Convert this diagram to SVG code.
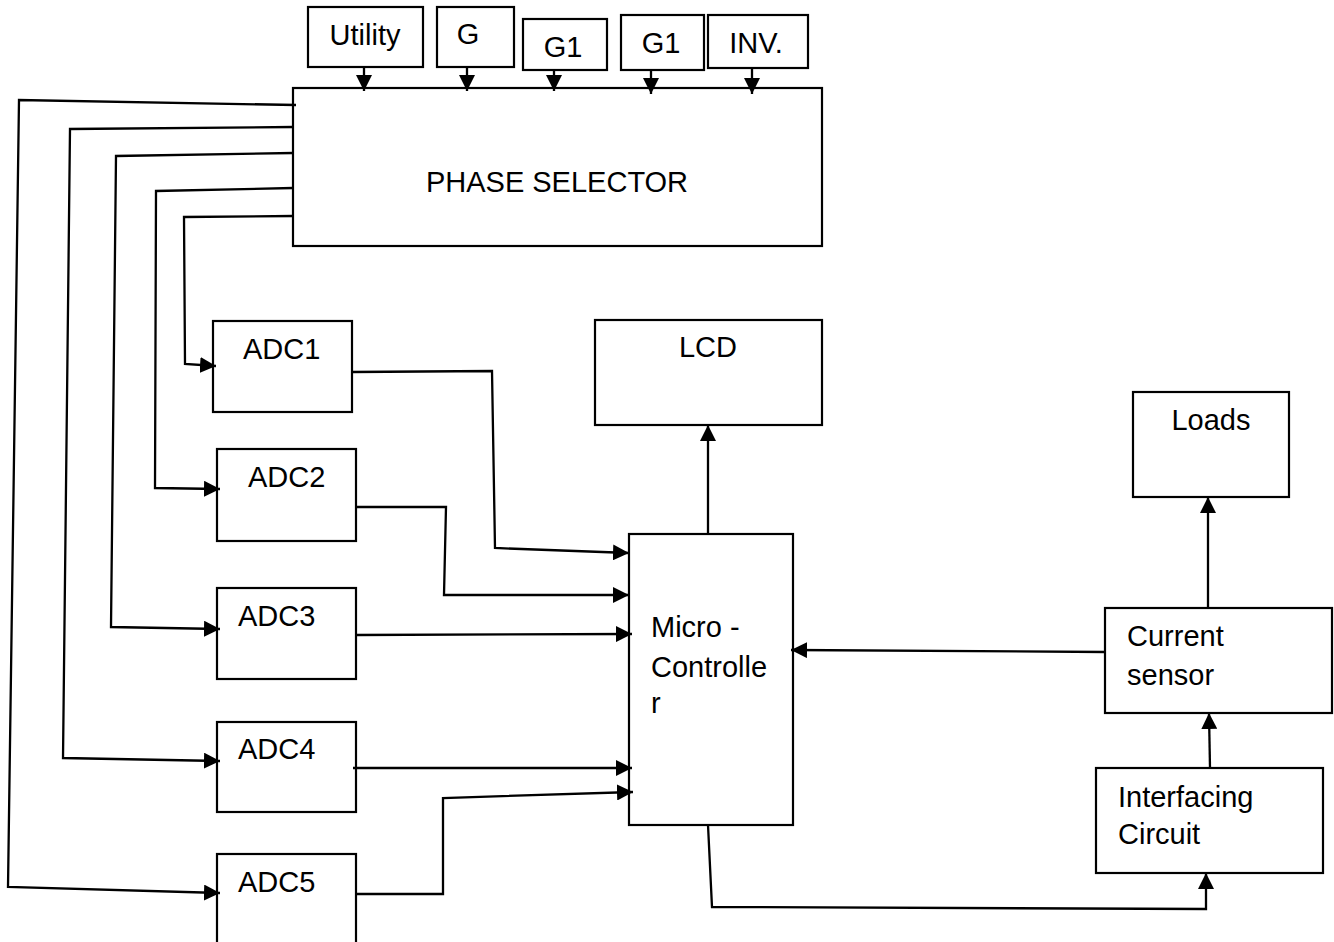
<svg xmlns="http://www.w3.org/2000/svg" width="1334" height="942" viewBox="0 0 1334 942">
<style>
.box{fill:#fff;stroke:#000;stroke-width:2.2}
.t{font-family:"Liberation Sans",Arial,sans-serif;font-size:29px;fill:#000}
.c{fill:none;stroke:#000;stroke-width:2.3}
.a{marker-end:url(#ah)}
</style>
<defs>
<marker id="ah" markerUnits="userSpaceOnUse" markerWidth="17" markerHeight="16" refX="16" refY="8" orient="auto">
<path d="M0,0 L16,8 L0,16 z" fill="#000"/>
</marker>
</defs>
<rect width="1334" height="942" fill="#fff"/>
<g id="utility"><rect class="box" x="308" y="7" width="115" height="60"/><text class="t" x="365" y="45" text-anchor="middle">Utility</text></g>
<g id="g"><rect class="box" x="437" y="7" width="77" height="60"/><text class="t" x="468" y="44" text-anchor="middle">G</text></g>
<g id="g1a"><rect class="box" x="523" y="19" width="84" height="51"/><text class="t" x="563" y="57" text-anchor="middle">G1</text></g>
<g id="g1b"><rect class="box" x="621" y="15" width="83" height="55"/><text class="t" x="661" y="53" text-anchor="middle">G1</text></g>
<g id="inv"><rect class="box" x="708" y="15" width="100" height="53"/><text class="t" x="756" y="53" text-anchor="middle">INV.</text></g>
<g id="phase"><rect class="box" x="293" y="88" width="529" height="158"/><text class="t" x="557" y="192" text-anchor="middle">PHASE SELECTOR</text></g>
<g id="adc1"><rect class="box" x="213" y="321" width="139" height="91"/><text class="t" x="243" y="359">ADC1</text></g>
<g id="adc2"><rect class="box" x="217" y="449" width="139" height="92"/><text class="t" x="248" y="487">ADC2</text></g>
<g id="adc3"><rect class="box" x="217" y="588" width="139" height="91"/><text class="t" x="238" y="626">ADC3</text></g>
<g id="adc4"><rect class="box" x="217" y="722" width="139" height="90"/><text class="t" x="238" y="759">ADC4</text></g>
<g id="adc5"><rect class="box" x="217" y="854" width="139" height="100"/><text class="t" x="238" y="892">ADC5</text></g>
<g id="lcd"><rect class="box" x="595" y="320" width="227" height="105"/><text class="t" x="708" y="357" text-anchor="middle">LCD</text></g>
<g id="micro"><rect class="box" x="629" y="534" width="164" height="291"/><text class="t" x="651" y="637">Micro -</text><text class="t" x="651" y="677">Controlle</text><text class="t" x="651" y="713">r</text></g>
<g id="loads"><rect class="box" x="1133" y="392" width="156" height="105"/><text class="t" x="1211" y="430" text-anchor="middle">Loads</text></g>
<g id="sensor"><rect class="box" x="1105" y="608" width="227" height="105"/><text class="t" x="1127" y="646">Current</text><text class="t" x="1127" y="685">sensor</text></g>
<g id="interface"><rect class="box" x="1096" y="768" width="227" height="105"/><text class="t" x="1118" y="807">Interfacing</text><text class="t" x="1118" y="844">Circuit</text></g>
<g id="connectors">
<path class="c a" d="M364,67 L364,91"/>
<path class="c a" d="M467,67 L467,91"/>
<path class="c a" d="M554,70 L554,91"/>
<path class="c a" d="M651,70 L651,94"/>
<path class="c a" d="M752,68 L752,94"/>
<path class="c a" d="M296,105 L19,100 L8,887 L220,893"/>
<path class="c a" d="M293,127 L70,129 L63,758 L220,761"/>
<path class="c a" d="M293,153 L116,156 L111,627 L220,629"/>
<path class="c a" d="M293,188 L156,191 L155,488 L220,489"/>
<path class="c a" d="M293,216 L184,217 L185,364 L216,366"/>
<path class="c a" d="M352,372 L492,371 L495,548 L629,553"/>
<path class="c a" d="M356,507 L446,507 L444,595 L629,595"/>
<path class="c a" d="M356,635 L632,634"/>
<path class="c a" d="M353,768 L632,768"/>
<path class="c a" d="M356,894 L443,894 L443,798 L633,792"/>
<path class="c a" d="M708,534 L708,425"/>
<path class="c a" d="M1105,652 L791,650"/>
<path class="c a" d="M1208,608 L1208,497"/>
<path class="c a" d="M1210,768 L1209,713"/>
<path class="c a" d="M708,825 L712,907 L1206,909 L1206,873"/>
</g>
</svg>
